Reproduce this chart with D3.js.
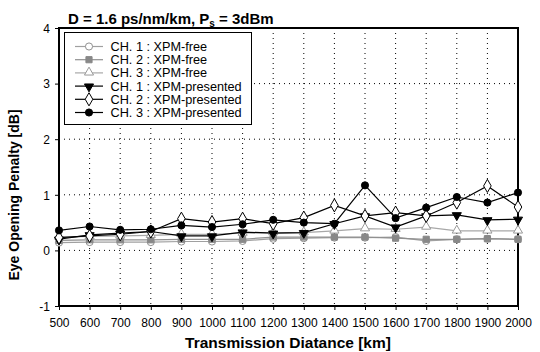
<!DOCTYPE html>
<html><head><meta charset="utf-8">
<script src="https://cdn.jsdelivr.net/npm/d3@7"></script>
<style>body{margin:0;background:#fff;} text{font-family:"Liberation Sans",Arial,sans-serif;}</style>
</head><body>
<svg id="c" width="540" height="352"></svg>
<script>
const distances = [500,600,700,800,900,1000,1100,1200,1300,1400,1500,1600,1700,1800,1900,2000];
const ch1Free = [0.14,0.15,0.15,0.15,0.16,0.16,0.17,0.21,0.22,0.23,0.23,0.24,0.17,0.20,0.21,0.20];
const ch2Free = [0.18,0.19,0.19,0.19,0.20,0.20,0.20,0.24,0.24,0.24,0.24,0.22,0.20,0.20,0.21,0.20];
const ch3Free = [0.24,0.25,0.26,0.27,0.29,0.29,0.31,0.32,0.32,0.35,0.39,0.38,0.42,0.35,0.35,0.35];
const ch1Pres = [0.20,0.28,0.31,0.34,0.26,0.26,0.33,0.31,0.32,0.48,0.62,0.42,0.62,0.64,0.55,0.56];
const ch2Pres = [0.23,0.26,0.29,0.34,0.57,0.51,0.57,0.48,0.59,0.81,0.62,0.68,0.62,0.86,1.16,0.78];
const ch3Pres = [0.36,0.43,0.37,0.38,0.45,0.42,0.47,0.55,0.50,0.48,1.17,0.58,0.77,0.96,0.86,1.04];
const xTicks = [500,600,700,800,900,1000,1100,1200,1300,1400,1500,1600,1700,1800,1900,2000];
const yTicks = [-1,0,1,2,3,4];

const series = [
  {name:"CH. 1 : XPM-free", values:ch1Free, line:"#a0a0a0", shape:"circle", fill:"#fff", stroke:"#909090"},
  {name:"CH. 2 : XPM-free", values:ch2Free, line:"#909090", shape:"square", fill:"#888", stroke:"#888"},
  {name:"CH. 3 : XPM-free", values:ch3Free, line:"#a8a8a8", shape:"triangle", fill:"#fff", stroke:"#999"},
  {name:"CH. 1 : XPM-presented", values:ch1Pres, line:"#000", shape:"triangleDown", fill:"#000", stroke:"#000"},
  {name:"CH. 2 : XPM-presented", values:ch2Pres, line:"#000", shape:"diamond", fill:"#fff", stroke:"#000"},
  {name:"CH. 3 : XPM-presented", values:ch3Pres, line:"#000", shape:"circle", fill:"#000", stroke:"#000"}
];

const svg = d3.select("#c");
const L=59, R=518, T=28, B=306;
const x = d3.scaleLinear().domain([500,2000]).range([L,R]);
const y = d3.scaleLinear().domain([-1,4]).range([B,T]);

// grid
const grid = svg.append("g");
grid.selectAll("line.v").data(xTicks.slice(1,-1)).enter().append("line")
  .attr("x1",d=>x(d)).attr("x2",d=>x(d)).attr("y1",T).attr("y2",B)
  .attr("stroke","#000").attr("stroke-width",1).attr("stroke-dasharray","1,4");
grid.selectAll("line.h").data(yTicks.slice(1,-1)).enter().append("line")
  .attr("x1",L).attr("x2",R).attr("y1",d=>y(d)).attr("y2",d=>y(d))
  .attr("stroke","#000").attr("stroke-width",1).attr("stroke-dasharray","1,4");

// axes
const xAxis = svg.append("g").attr("transform",`translate(0,${B})`)
  .call(d3.axisBottom(x).tickValues(xTicks).tickSize(4).tickPadding(8).tickFormat(d=>String(d)));
const yAxis = svg.append("g").attr("transform",`translate(${L},0)`)
  .call(d3.axisLeft(y).tickValues(yTicks).tickSize(4).tickPadding(5).tickFormat(d=>String(d)));
[xAxis,yAxis].forEach(a=>{
  a.select(".domain").remove();
  a.selectAll("text").attr("font-size",12).attr("fill","#000").style("font-family","'Liberation Sans',Arial,sans-serif");
  a.selectAll("line").attr("stroke","#000");
});
yAxis.selectAll("text").attr("dy","0.35em");

// frame
svg.append("rect").attr("x",L).attr("y",T).attr("width",R-L).attr("height",B-T)
  .attr("fill","none").attr("stroke","#000").attr("stroke-width",2);

function sym(shape){
  const m = {circle:[d3.symbolCircle,40], square:[d3.symbolSquare,38], triangle:[d3.symbolTriangle,36],
    triangleDown:[d3.symbolTriangle,36], diamond:[d3.symbolDiamond,50]}[shape];
  return d3.symbol().type(m[0]).size(m[1])();
}
function drawMarker(g, s, cx, cy){
  const p = g.append("path").attr("d",sym(s.shape)).attr("fill",s.fill).attr("stroke",s.stroke).attr("stroke-width",1);
  const rot = s.shape==="triangleDown" ? " rotate(180)" : "";
  const dy = s.shape==="triangle" ? -0.5 : (s.shape==="triangleDown"?0.5:0);
  p.attr("transform",`translate(${cx},${cy+dy})${rot}`);
}

const line = d3.line().x((d,i)=>x(distances[i])).y(d=>y(d));
series.forEach(s=>{
  const g = svg.append("g");
  g.append("path").datum(s.values).attr("d",line).attr("fill","none").attr("stroke",s.line).attr("stroke-width",1.2);
  s.values.forEach((v,i)=>drawMarker(g,s,x(distances[i]),y(v)));
});

// legend
const lg = svg.append("g");
lg.append("rect").attr("x",64.5).attr("y",32.5).attr("width",187).attr("height",92)
  .attr("fill","#fff").attr("stroke","#000").attr("stroke-width",1);
series.forEach((s,i)=>{
  const yy = 46.5 + i*13.2;
  lg.append("line").attr("x1",75).attr("x2",103).attr("y1",yy).attr("y2",yy).attr("stroke",s.line).attr("stroke-width",1.2);
  drawMarker(lg,s,89,yy);
  lg.append("text").attr("x",110.5).attr("y",yy).attr("dy","0.36em").attr("font-size",12.7).text(s.name);
});

// title
const t = svg.append("text").attr("x",68).attr("y",23.5).attr("font-size",15).attr("font-weight","bold");
t.append("tspan").text("D = 1.6 ps/nm/km, P");
t.append("tspan").attr("font-size",10).attr("dy",3).text("s");
t.append("tspan").attr("dy",-3).text(" = 3dBm");

svg.append("text").attr("x",288).attr("y",348).attr("text-anchor","middle").attr("font-size",15.5).attr("font-weight","bold")
  .text("Transmission Diatance [km]");
svg.append("text").attr("transform",`translate(19,195) rotate(-90)`).attr("text-anchor","middle")
  .attr("font-size",14).attr("font-weight","bold").text("Eye Opening Penalty [dB]");
</script>
</body></html>
